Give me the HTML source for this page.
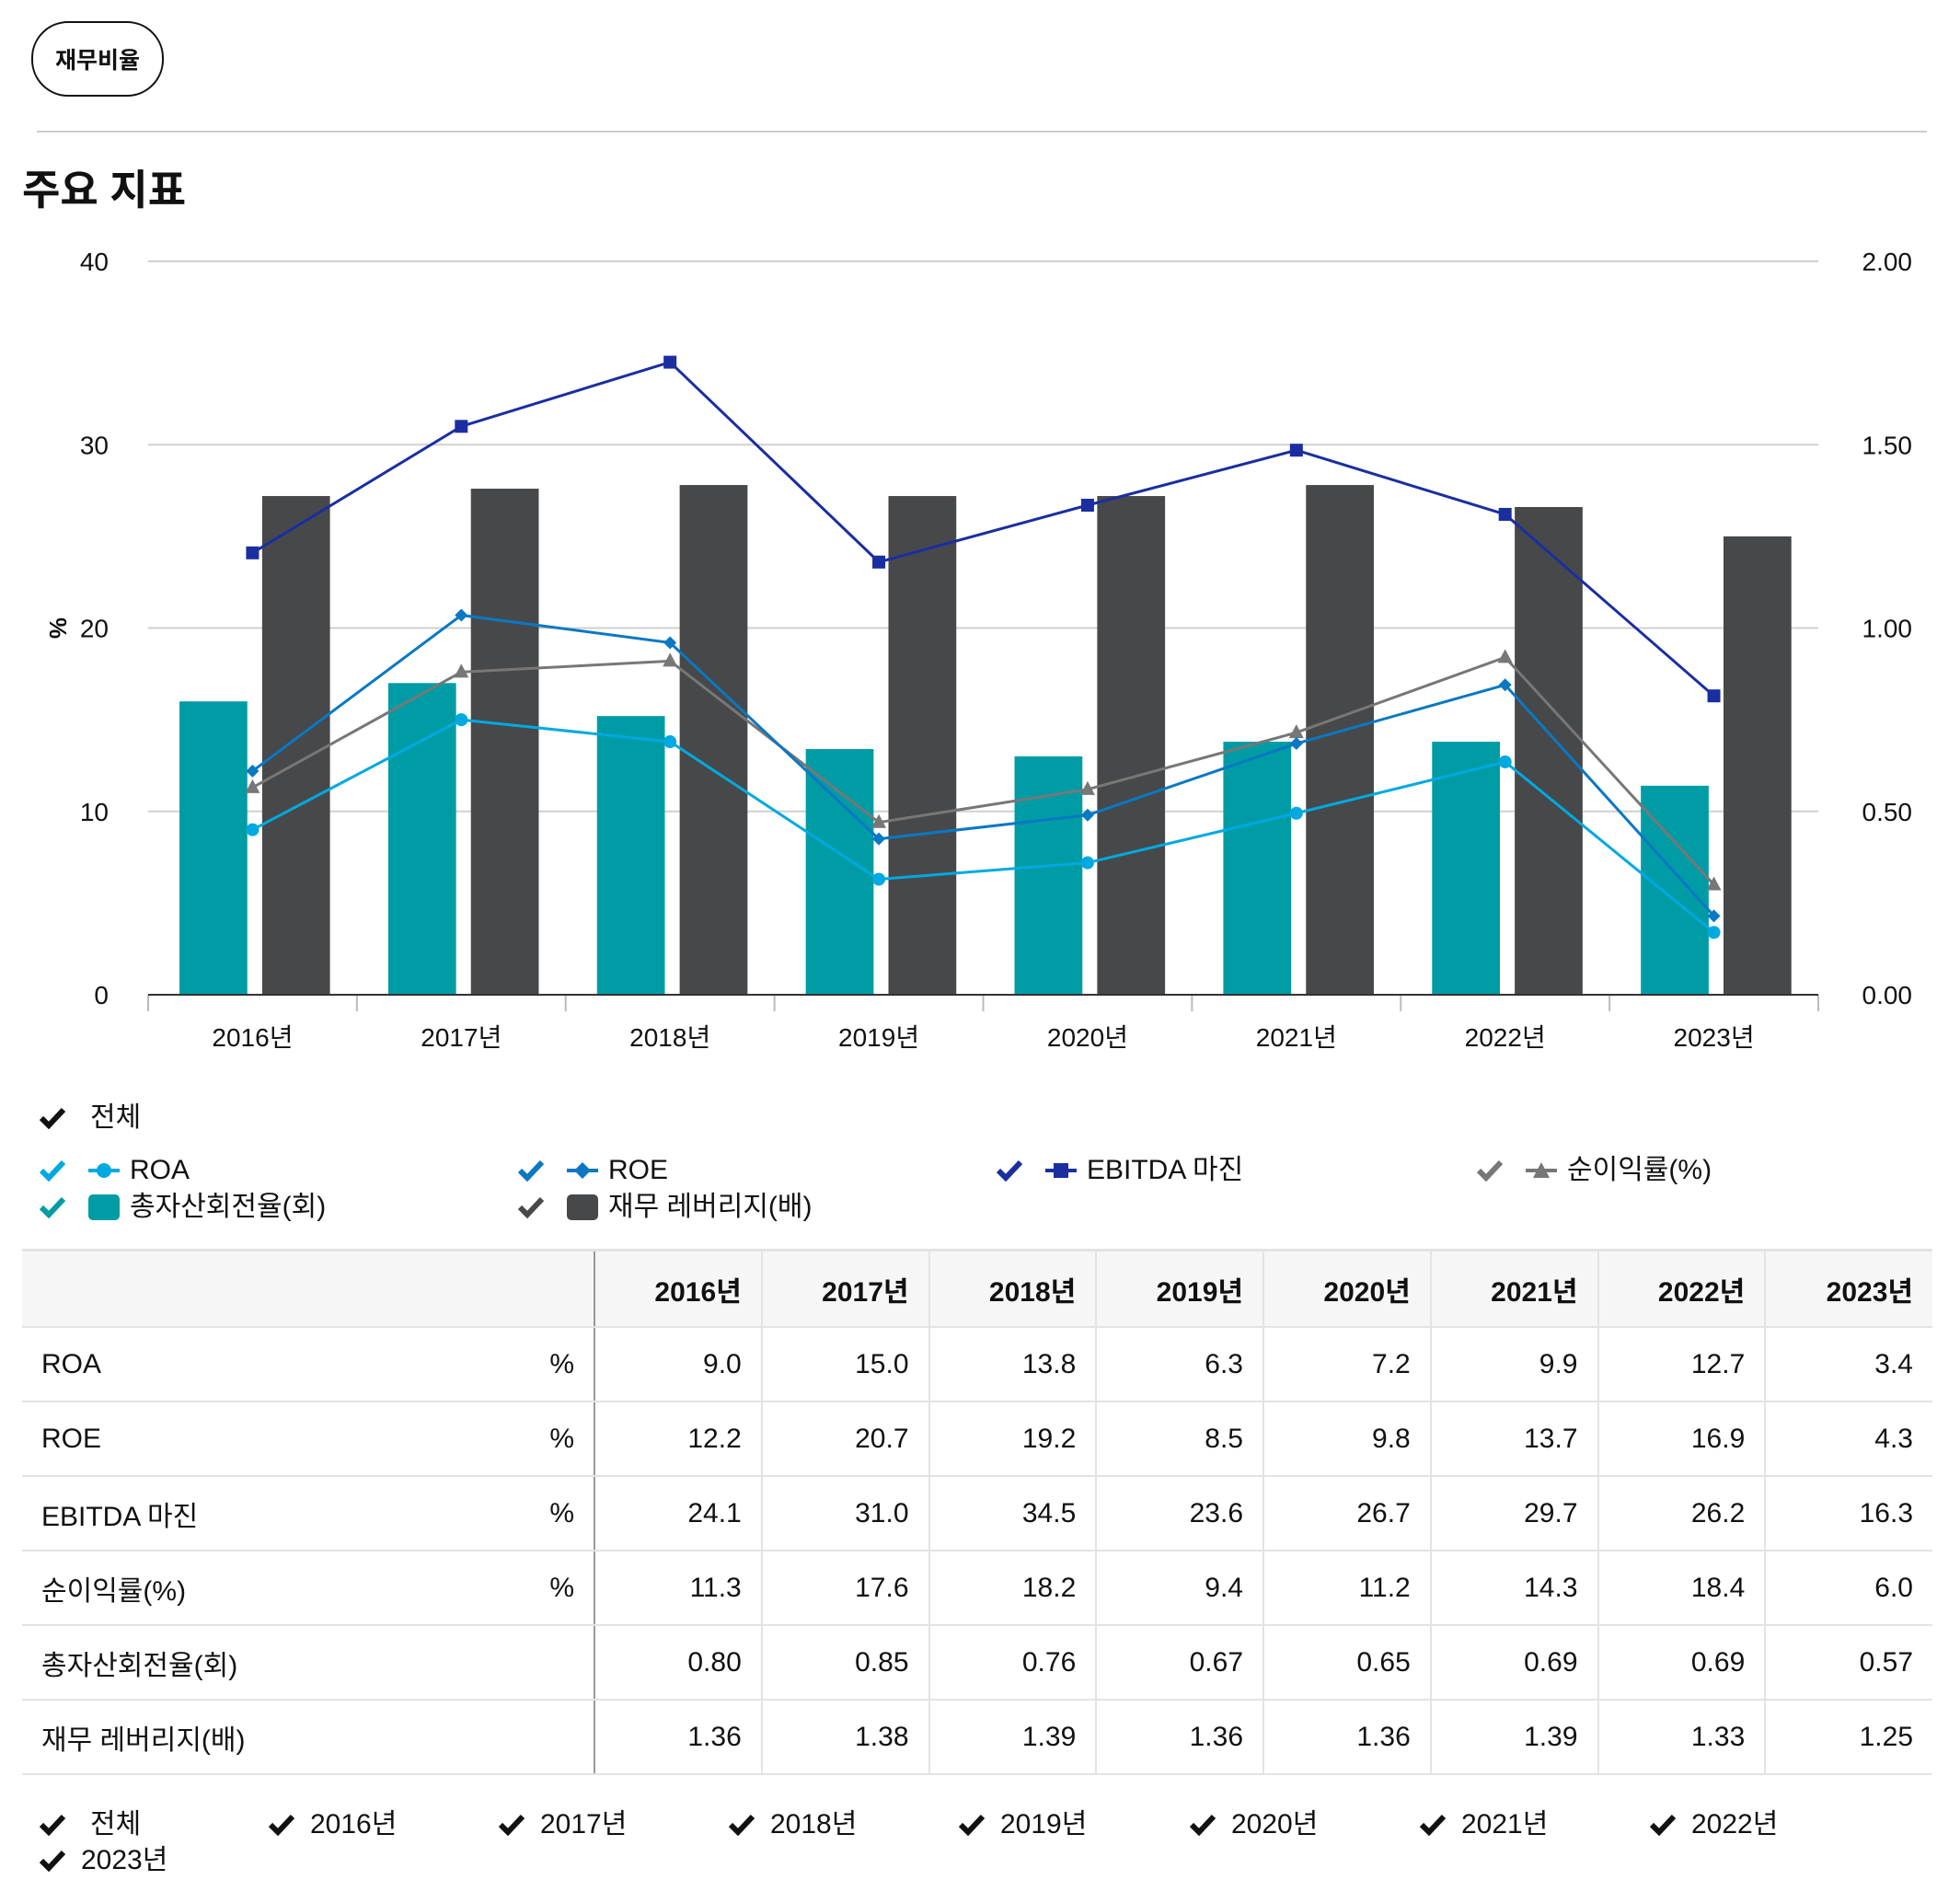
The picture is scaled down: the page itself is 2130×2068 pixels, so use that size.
<!DOCTYPE html>
<html><head><meta charset="utf-8">
<style>
html,body{margin:0;padding:0;background:#fff;}
body{width:2130px;height:2068px;position:relative;overflow:hidden;font-family:"Liberation Sans","Noto Sans CJK KR",sans-serif;color:#111;}
.abs{position:absolute;}
#btn{left:34px;top:23px;width:140px;height:78px;border:2px solid #111;border-radius:40px;font-size:25px;font-weight:bold;display:flex;align-items:center;justify-content:center;}
#sep{left:40px;top:142px;width:2054px;height:2px;background:#ccc;}
#title{left:24px;top:170px;font-size:45px;font-weight:bold;}
.lg{font-size:30px;white-space:nowrap;display:flex;align-items:center;height:40px;line-height:40px;}
.ck{display:inline-block;}
table{position:absolute;left:24px;top:1357px;width:2076px;border-collapse:collapse;font-size:30px;table-layout:fixed;}
td,th{border-bottom:2px solid #e3e3e3;padding:0 21px;text-align:right;height:79px;}
th{background:#f6f6f6;font-weight:bold;height:81px;}
td.l{text-align:left;}
td.u,th.u{border-right:2px solid #999;}
.vc{border-left:2px solid #e3e3e3;}
tr:first-child th{border-top:3px solid #e3e3e3;}
</style></head><body>
<div id="btn" class="abs">재무비율</div>
<div id="sep" class="abs"></div>
<div id="title" class="abs">주요 지표</div>
<svg id="chart" class="abs" style="left:0;top:250px" width="2130" height="900"></svg>

<div class="abs lg" style="left:42px;top:1195px"><svg class="ck" width="30" height="26" viewBox="0 0 30 26"><path d="M3 13 L11 21 L27 4" fill="none" stroke="#111" stroke-width="6"/></svg><span style="margin-left:26px">전체</span></div>

<div class="abs lg" style="left:42px;top:1252px"><svg class="ck" width="30" height="26" viewBox="0 0 30 26"><path d="M3 13 L11 21 L27 4" fill="none" stroke="#00a9e0" stroke-width="6"/></svg><svg style="margin-left:24px" width="34" height="30"><line x1="0" y1="15" x2="34" y2="15" stroke="#00a9e0" stroke-width="4"/><circle cx="17" cy="15" r="8" fill="#00a9e0"/></svg><span style="margin-left:11px">ROA</span></div>
<div class="abs lg" style="left:562px;top:1252px"><svg class="ck" width="30" height="26" viewBox="0 0 30 26"><path d="M3 13 L11 21 L27 4" fill="none" stroke="#0a78c2" stroke-width="6"/></svg><svg style="margin-left:24px" width="34" height="30"><line x1="0" y1="15" x2="34" y2="15" stroke="#0a78c2" stroke-width="4"/><path d="M17 6 L26 15 L17 24 L8 15Z" fill="#0a78c2"/></svg><span style="margin-left:11px">ROE</span></div>
<div class="abs lg" style="left:1082px;top:1252px"><svg class="ck" width="30" height="26" viewBox="0 0 30 26"><path d="M3 13 L11 21 L27 4" fill="none" stroke="#1a2ea0" stroke-width="6"/></svg><svg style="margin-left:24px" width="34" height="30"><line x1="0" y1="15" x2="34" y2="15" stroke="#1a2ea0" stroke-width="4"/><rect x="9" y="7" width="16" height="16" fill="#1a2ea0"/></svg><span style="margin-left:11px">EBITDA 마진</span></div>
<div class="abs lg" style="left:1604px;top:1252px"><svg class="ck" width="30" height="26" viewBox="0 0 30 26"><path d="M3 13 L11 21 L27 4" fill="none" stroke="#777" stroke-width="6"/></svg><svg style="margin-left:24px" width="34" height="30"><line x1="0" y1="15" x2="34" y2="15" stroke="#777" stroke-width="4"/><path d="M17 6 L26 23 L8 23Z" fill="#777"/></svg><span style="margin-left:11px">순이익률(%)</span></div>
<div class="abs lg" style="left:42px;top:1292px"><svg class="ck" width="30" height="26" viewBox="0 0 30 26"><path d="M3 13 L11 21 L27 4" fill="none" stroke="#009ca6" stroke-width="6"/></svg><svg style="margin-left:24px" width="34" height="30"><rect x="0" y="1" width="34" height="28" rx="5" fill="#009ca6"/></svg><span style="margin-left:11px">총자산회전율(회)</span></div>
<div class="abs lg" style="left:562px;top:1292px"><svg class="ck" width="30" height="26" viewBox="0 0 30 26"><path d="M3 13 L11 21 L27 4" fill="none" stroke="#47484a" stroke-width="6"/></svg><svg style="margin-left:24px" width="34" height="30"><rect x="0" y="1" width="34" height="28" rx="5" fill="#47484a"/></svg><span style="margin-left:11px">재무 레버리지(배)</span></div>

<table>
<colgroup><col style="width:520px"><col style="width:102px"><col><col><col><col><col><col><col><col></colgroup>
<tr><th class="l u" colspan="2"></th><th>2016년</th><th class="vc">2017년</th><th class="vc">2018년</th><th class="vc">2019년</th><th class="vc">2020년</th><th class="vc">2021년</th><th class="vc">2022년</th><th class="vc">2023년</th></tr>
<tr><td class="l">ROA</td><td class="u">%</td><td>9.0</td><td class="vc">15.0</td><td class="vc">13.8</td><td class="vc">6.3</td><td class="vc">7.2</td><td class="vc">9.9</td><td class="vc">12.7</td><td class="vc">3.4</td></tr>
<tr><td class="l">ROE</td><td class="u">%</td><td>12.2</td><td class="vc">20.7</td><td class="vc">19.2</td><td class="vc">8.5</td><td class="vc">9.8</td><td class="vc">13.7</td><td class="vc">16.9</td><td class="vc">4.3</td></tr>
<tr><td class="l">EBITDA 마진</td><td class="u">%</td><td>24.1</td><td class="vc">31.0</td><td class="vc">34.5</td><td class="vc">23.6</td><td class="vc">26.7</td><td class="vc">29.7</td><td class="vc">26.2</td><td class="vc">16.3</td></tr>
<tr><td class="l">순이익률(%)</td><td class="u">%</td><td>11.3</td><td class="vc">17.6</td><td class="vc">18.2</td><td class="vc">9.4</td><td class="vc">11.2</td><td class="vc">14.3</td><td class="vc">18.4</td><td class="vc">6.0</td></tr>
<tr><td class="l">총자산회전율(회)</td><td class="u"></td><td>0.80</td><td class="vc">0.85</td><td class="vc">0.76</td><td class="vc">0.67</td><td class="vc">0.65</td><td class="vc">0.69</td><td class="vc">0.69</td><td class="vc">0.57</td></tr>
<tr><td class="l">재무 레버리지(배)</td><td class="u"></td><td>1.36</td><td class="vc">1.38</td><td class="vc">1.39</td><td class="vc">1.36</td><td class="vc">1.36</td><td class="vc">1.39</td><td class="vc">1.33</td><td class="vc">1.25</td></tr>
</table>

<div class="abs lg" style="left:42px;top:1963px"><svg class="ck" width="30" height="26" viewBox="0 0 30 26"><path d="M3 13 L11 21 L27 4" fill="none" stroke="#111" stroke-width="6"/></svg><span style="margin-left:26px">전체</span></div>
<div class="abs lg" style="left:291px;top:1963px"><svg class="ck" width="30" height="26" viewBox="0 0 30 26"><path d="M3 13 L11 21 L27 4" fill="none" stroke="#111" stroke-width="6"/></svg><span style="margin-left:16px">2016년</span></div>
<div class="abs lg" style="left:541px;top:1963px"><svg class="ck" width="30" height="26" viewBox="0 0 30 26"><path d="M3 13 L11 21 L27 4" fill="none" stroke="#111" stroke-width="6"/></svg><span style="margin-left:16px">2017년</span></div>
<div class="abs lg" style="left:791px;top:1963px"><svg class="ck" width="30" height="26" viewBox="0 0 30 26"><path d="M3 13 L11 21 L27 4" fill="none" stroke="#111" stroke-width="6"/></svg><span style="margin-left:16px">2018년</span></div>
<div class="abs lg" style="left:1041px;top:1963px"><svg class="ck" width="30" height="26" viewBox="0 0 30 26"><path d="M3 13 L11 21 L27 4" fill="none" stroke="#111" stroke-width="6"/></svg><span style="margin-left:16px">2019년</span></div>
<div class="abs lg" style="left:1292px;top:1963px"><svg class="ck" width="30" height="26" viewBox="0 0 30 26"><path d="M3 13 L11 21 L27 4" fill="none" stroke="#111" stroke-width="6"/></svg><span style="margin-left:16px">2020년</span></div>
<div class="abs lg" style="left:1542px;top:1963px"><svg class="ck" width="30" height="26" viewBox="0 0 30 26"><path d="M3 13 L11 21 L27 4" fill="none" stroke="#111" stroke-width="6"/></svg><span style="margin-left:16px">2021년</span></div>
<div class="abs lg" style="left:1792px;top:1963px"><svg class="ck" width="30" height="26" viewBox="0 0 30 26"><path d="M3 13 L11 21 L27 4" fill="none" stroke="#111" stroke-width="6"/></svg><span style="margin-left:16px">2022년</span></div>
<div class="abs lg" style="left:42px;top:2002px"><svg class="ck" width="30" height="26" viewBox="0 0 30 26"><path d="M3 13 L11 21 L27 4" fill="none" stroke="#111" stroke-width="6"/></svg><span style="margin-left:16px">2023년</span></div>

<script>
const categories=["2016년","2017년","2018년","2019년","2020년","2021년","2022년","2023년"];
const roa=[9.0,15.0,13.8,6.3,7.2,9.9,12.7,3.4];
const roe=[12.2,20.7,19.2,8.5,9.8,13.7,16.9,4.3];
const ebitda=[24.1,31.0,34.5,23.6,26.7,29.7,26.2,16.3];
const netMargin=[11.3,17.6,18.2,9.4,11.2,14.3,18.4,6.0];
const turnover=[0.80,0.85,0.76,0.67,0.65,0.69,0.69,0.57];
const leverage=[1.36,1.38,1.39,1.36,1.36,1.39,1.33,1.25];
const leftTicks=[0,10,20,30,40];
const rightTicks=["0.00","0.50","1.00","1.50","2.00"];

const svg=document.getElementById('chart');
const NS='http://www.w3.org/2000/svg';
const OY=250;
const L=161,R=1976,T=284-OY,B=1081-OY;
const bw=(R-L)/categories.length;
const yL=v=>B-(v/40)*(B-T);
const yR=v=>B-(v/2)*(B-T);
const xc=i=>L+bw*(i+0.5);
function mk(tag,attrs,parent){const e=document.createElementNS(NS,tag);for(const k in attrs)e.setAttribute(k,attrs[k]);(parent||svg).appendChild(e);return e;}

leftTicks.forEach((t,i)=>{
  const y=yL(t);
  if(t>0){const g=mk('line',{x1:L,x2:R,y1:y,y2:y,stroke:'#d0d0d0','stroke-width':2});
  
  }
  const a=mk('text',{x:118,y:y+10,'text-anchor':'end','font-size':28,fill:'#111'});a.textContent=t;
  
  
  const b=mk('text',{x:2078,y:y+10,'text-anchor':'end','font-size':28,fill:'#111'});b.textContent=rightTicks[i];
  
  
});
const yt=mk('text',{x:0,y:0,'font-size':26,'font-weight':'bold',transform:`translate(72,${yL(20)}) rotate(-90)`,'text-anchor':'middle',fill:'#111'});yt.textContent='%';



categories.forEach((c,i)=>{
  const x0=L+bw*i;
  const r1=mk('rect',{x:x0+bw*0.15,y:yR(turnover[i]),width:bw*0.325,height:B-yR(turnover[i]),fill:'#009ca6'});
  
  
  const r2=mk('rect',{x:x0+bw*0.546,y:yR(leverage[i]),width:bw*0.325,height:B-yR(leverage[i]),fill:'#47484a'});
  
  
  const tk=mk('line',{x1:x0,x2:x0,y1:B,y2:B+18,stroke:'#bbb','stroke-width':2});
  
  
  const lb=mk('text',{x:xc(i),y:B+56,'text-anchor':'middle','font-size':28,fill:'#111'});lb.textContent=c;
  
  
});
const tkE=mk('line',{x1:R,x2:R,y1:B,y2:B+18,stroke:'#bbb','stroke-width':2});


const ax=mk('line',{x1:L,x2:R,y1:B,y2:B,stroke:'#333','stroke-width':2});



function series(vals,color,shape,name){
  const pts=vals.map((v,i)=>xc(i)+','+yL(v)).join(' ');
  const pl=mk('polyline',{points:pts,fill:'none',stroke:color,'stroke-width':3});
  
  
  vals.forEach((v,i)=>{
    const x=xc(i),y=yL(v);let m;
    if(shape==='circle')m=mk('circle',{cx:x,cy:y,r:7,fill:color});
    else if(shape==='square')m=mk('rect',{x:x-7,y:y-7,width:14,height:14,fill:color});
    else if(shape==='diamond')m=mk('path',{d:`M${x} ${y-7}L${x+7} ${y}L${x} ${y+7}L${x-7} ${y}Z`,fill:color});
    else m=mk('path',{d:`M${x} ${y-9}L${x+8} ${y+6}L${x-8} ${y+6}Z`,fill:color});
    
    
  });
}
series(ebitda,'#1a2ea0','square','ebitda');
series(netMargin,'#777777','triangle','net-margin');
series(roe,'#0a78c2','diamond','roe');
series(roa,'#00a9e0','circle','roa');
</script>
</body></html>
